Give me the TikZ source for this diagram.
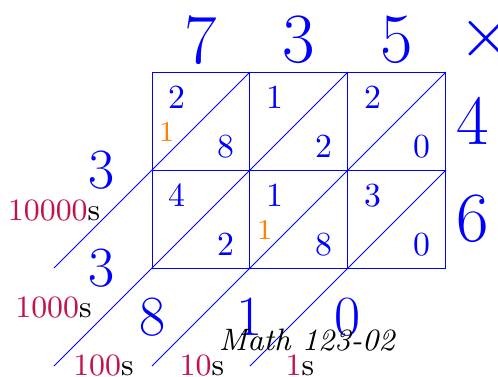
\documentclass[tikz,border=0pt]{standalone}
\usepackage{tikz}
\definecolor{placered}{RGB}{196,18,72}
\definecolor{carryorange}{RGB}{255,128,0}
\begin{document}
\begin{tikzpicture}[
  gridline/.style={blue, line width=0.28pt},
  celldigit/.style={blue, inner sep=0pt, font=\fontsize{9.8}{12}\selectfont},
  carry/.style={carryorange, inner sep=0pt, font=\fontsize{8.3}{10}\selectfont},
  bigdigit/.style={blue, inner sep=0pt, font=\fontsize{20.5}{24}\selectfont},
  middigit/.style={blue, inner sep=0pt, font=\fontsize{16.5}{20}\selectfont},
  placelabel/.style={inner sep=0pt, font=\small}
]
\useasboundingbox (-1.551,-1.102) rectangle (3.531,2.735);

% grid corners
\coordinate (g00) at (0,0);
\coordinate (g10) at (1,0);
\coordinate (g20) at (2,0);
\coordinate (g30) at (3,0);
\coordinate (g01) at (0,1);
\coordinate (g31) at (3,1);
\coordinate (g02) at (0,2);
\coordinate (g12) at (1,2);
\coordinate (g22) at (2,2);
\coordinate (g32) at (3,2);
\coordinate (e1) at (-1,0);
\coordinate (e2) at (-1,-1);
\coordinate (e3) at (0,-1);
\coordinate (e4) at (1,-1);

% grid
\draw[gridline] (g00) rectangle (g32);
\draw[gridline] (g01) -- (g31);
\draw[gridline] (g10) -- (g12);
\draw[gridline] (g20) -- (g22);

% diagonals
\draw[gridline] (g12) -- (e1);
\draw[gridline] (g22) -- (e2);
\draw[gridline] (g32) -- (e3);
\draw[gridline] (g31) -- (e4);

% cell digits
\node[celldigit] (t00) at (0.25,1.74) {2};
\node[celldigit] (u00) at (0.75,1.24) {8};
\node[carry] (c00) at (0.15,1.39) {1};
\node[celldigit] (t10) at (1.25,1.74) {1};
\node[celldigit] (u10) at (1.75,1.24) {2};
\node[celldigit] (t20) at (2.25,1.74) {2};
\node[celldigit] (u20) at (2.75,1.24) {0};
\node[celldigit] (t01) at (0.25,0.74) {4};
\node[celldigit] (u01) at (0.75,0.24) {2};
\node[celldigit] (t11) at (1.25,0.74) {1};
\node[celldigit] (u11) at (1.75,0.24) {8};
\node[carry] (c11) at (1.15,0.39) {1};
\node[celldigit] (t21) at (2.25,0.74) {3};
\node[celldigit] (u21) at (2.75,0.24) {0};

% factors
\node[bigdigit] (f7) at (0.5,2.33) {7};
\node[bigdigit] (f3) at (1.5,2.33) {3};
\node[bigdigit] (f5) at (2.5,2.33) {5};
\node[bigdigit] (times) at (3.41,2.34) {$\times$};
\node[bigdigit] (f4) at (3.27,1.5) {4};
\node[bigdigit] (f6) at (3.27,0.5) {6};

% result digits
\node[middigit] (r3a) at (-0.51,1.0) {3};
\node[middigit] (r3b) at (-0.51,0.0) {3};
\node[middigit] (r8) at (0.01,-0.50) {8};
\node[middigit] (r1) at (1.0,-0.50) {1};
\node[middigit] (r0) at (2.0,-0.50) {0};

% place labels
\node[placelabel] (p10000) at (-0.999,0.587) {\textcolor{placered}{10000}s};
\node[placelabel] (p1000) at (-1.005,-0.403) {\textcolor{placered}{1000}s};
\node[placelabel] (p100) at (-0.495,-0.99) {\textcolor{placered}{100}s};
\node[placelabel] (p10) at (0.51,-0.99) {\textcolor{placered}{10}s};
\node[placelabel] (p1) at (1.51,-0.99) {\textcolor{placered}{1}s};

% caption
\node[inner sep=0pt, font=\small\itshape, anchor=base] (cap) at (1.58,-0.837) {Math 123-02};
\end{tikzpicture}
\end{document}
